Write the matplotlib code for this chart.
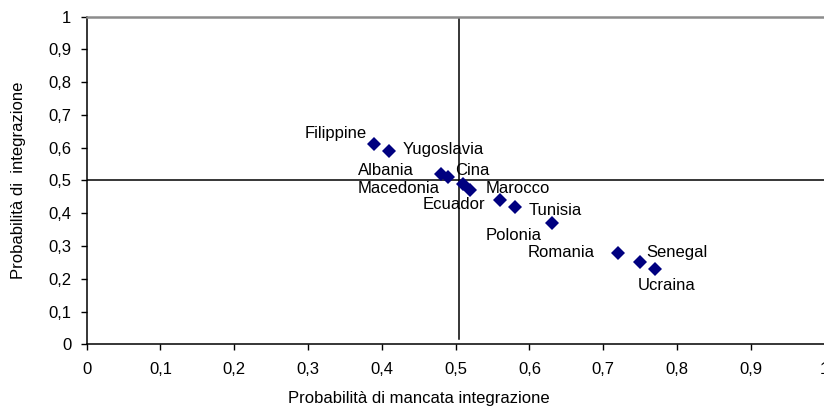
import matplotlib.pyplot as plt

plt.rcParams['font.family'] = ['Liberation Sans', 'DejaVu Sans']

paesi = ["Filippine", "Yugoslavia", "Albania", "Macedonia", "Cina", "Marocco",
         "Ecuador", "Tunisia", "Polonia", "Romania", "Senegal", "Ucraina"]
mancata = [0.39, 0.41, 0.48, 0.49, 0.51, 0.52, 0.56, 0.58, 0.63, 0.72, 0.75, 0.77]
integrazione = [0.61, 0.59, 0.52, 0.51, 0.49, 0.47, 0.44, 0.42, 0.37, 0.28, 0.25, 0.23]

# spostamento etichette (pixel) e allineamento
offsets = {
    "Filippine": (-8, 11, "right"),
    "Yugoslavia": (13, 2, "left"),
    "Albania": (-27, 3, "right"),
    "Macedonia": (-9, -11, "right"),
    "Cina": (-8, 13, "left"),
    "Marocco": (15, 2, "left"),
    "Ecuador": (-15, -4, "right"),
    "Tunisia": (14, -4, "left"),
    "Polonia": (-10, -12, "right"),
    "Romania": (-23, 0, "right"),
    "Senegal": (6, 10, "left"),
    "Ucraina": (12, -17, "center"),
}

fig = plt.figure(figsize=(8.24, 4.09), dpi=100)
ax = fig.add_axes([0.1052, 0.1582, 0.8956, 0.801])

ax.plot([0, 1], [0.5, 0.5], color='black', lw=1.1, zorder=1)
ax.plot([0.504, 0.504], [0.016, 1], color='black', lw=1.1, zorder=1)
ax.plot(mancata, integrazione, 'D', color='#000080', markersize=7,
        markeredgewidth=0, zorder=3, linestyle='none')

for nome, x, y in zip(paesi, mancata, integrazione):
    dx, dy, ha = offsets[nome]
    ax.annotate(nome, (x, y), xytext=(dx, dy), textcoords='offset pixels',
                ha=ha, va='center', fontsize=12)

ax.set_xlim(0, 1)
ax.set_ylim(0, 1)
ticks = [i / 10 for i in range(11)]
labels = ["0", "0,1", "0,2", "0,3", "0,4", "0,5", "0,6", "0,7", "0,8", "0,9", "1"]
ax.set_xticks(ticks)
ax.set_xticklabels(labels)
ax.set_yticks(ticks)
ax.set_yticklabels(labels)
ax.tick_params(labelsize=12, length=4, width=1, color='black')
ax.tick_params(axis='x', pad=9)
ax.tick_params(axis='y', pad=7)

ax.spines['right'].set_visible(False)
ax.spines['top'].set_color('#8c8c8c')
ax.spines['top'].set_linewidth(1.8)
ax.spines['left'].set_linewidth(1.1)
ax.spines['bottom'].set_linewidth(1.1)

fig.text(0.508, 0.026, "Probabilità di mancata integrazione", ha='center', va='center', fontsize=12)
fig.text(0.022, 0.56, "Probabilità di  integrazione", ha='center', va='center',
         rotation=90, fontsize=12)

fig.savefig("out.png", dpi=100)
